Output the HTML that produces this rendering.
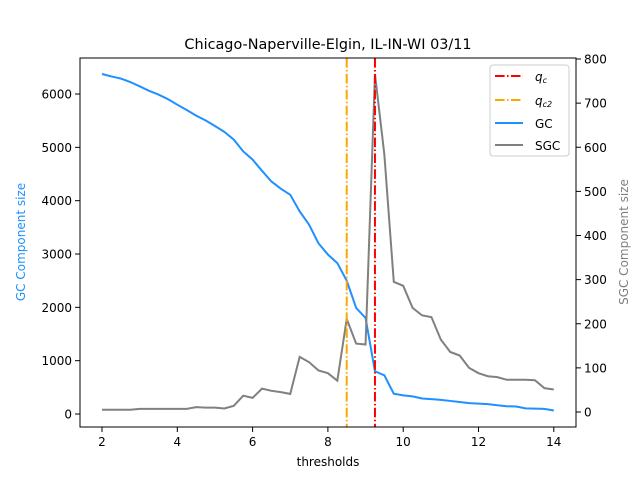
<!DOCTYPE html>
<html><head><meta charset="utf-8"><style>
body{margin:0;background:#fff;font-family:"DejaVu Sans","Liberation Sans",sans-serif;}
svg text{font-family:"DejaVu Sans","Liberation Sans",sans-serif;}
</style></head><body>
<svg id="chart" width="640" height="480" viewBox="0 0 640 480" xmlns="http://www.w3.org/2000/svg">
<rect width="640" height="480" fill="#fff"/>
<text x="328" y="49" font-size="14.4" text-anchor="middle">Chicago-Naperville-Elgin, IL-IN-WI 03/11</text>
<g id="marks"></g>
<g id="axes"></g>
<text x="328" y="466" font-size="12" text-anchor="middle">thresholds</text>
<text transform="translate(25,242) rotate(-90)" font-size="12" fill="#1e90ff" text-anchor="middle">GC Component size</text>
<text transform="translate(628,242) rotate(-90)" font-size="12" fill="#808080" text-anchor="middle">SGC Component size</text>
<g>
<rect x="490" y="65" width="79" height="91" rx="3" fill="#fff" fill-opacity="0.8" stroke="#ccc"/>
<line x1="495" y1="76" x2="523" y2="76" stroke="red" stroke-width="2" stroke-dasharray="9.6,2.4,1.5,2.4"/>
<text x="535" y="81" font-size="12" font-style="italic">q<tspan font-size="8" dy="2">c</tspan></text>
<line x1="495" y1="100" x2="523" y2="100" stroke="orange" stroke-width="2" stroke-dasharray="9.6,2.4,1.5,2.4"/>
<text x="535" y="105" font-size="12" font-style="italic">q<tspan font-size="8" dy="2">c2</tspan></text>
<line x1="495" y1="123" x2="523" y2="123" stroke="#1e90ff" stroke-width="2"/>
<text x="535" y="128" font-size="12">GC</text>
<line x1="495" y1="145" x2="523" y2="145" stroke="#808080" stroke-width="2"/>
<text x="535" y="150" font-size="12">SGC</text>
</g>
</svg>
<script>
const thresholds=[2,2.25,2.5,2.75,3,3.25,3.5,3.75,4,4.25,4.5,4.75,5,5.25,5.5,5.75,6,6.25,6.5,6.75,7,7.25,7.5,7.75,8,8.25,8.5,8.75,9,9.25,9.5,9.75,10,10.25,10.5,10.75,11,11.25,11.5,11.75,12,12.25,12.5,12.75,13,13.25,13.5,13.75,14];
const gcValues=[6375,6330,6290,6225,6145,6060,5990,5905,5800,5700,5595,5505,5400,5290,5145,4925,4770,4560,4360,4225,4110,3800,3550,3200,2990,2830,2500,1990,1800,800,725,380,350,330,290,280,265,245,225,205,195,185,165,145,140,105,100,95,65];
const sgcValues=[5,5,5,5,7,7,7,7,7,7,11,10,10,8,14,37,32,53,48,45,41,125,113,94,88,71,211,155,153,766,583,295,286,236,219,215,164,136,128,100,88,81,79,73,73,73,72,54,51];
const xTicks=[2,4,6,8,10,12,14];
const gcTicks=[0,1000,2000,3000,4000,5000,6000];
const sgcTicks=[0,100,200,300,400,500,600,700,800];
const qc=9.25, qc2=8.5;
const L=80,R=576,T=58,B=427;
const xs=v=>102+(v-2)*37.65;
const yl=v=>414-v*0.05333;
const yr=v=>412-v*0.44125;
const NS="http://www.w3.org/2000/svg";
const marks=document.getElementById('marks'), axes=document.getElementById('axes');
function mk(tag,attrs,parent){const e=document.createElementNS(NS,tag);for(const k in attrs)e.setAttribute(k,attrs[k]);parent.appendChild(e);return e;}
let p=mk('polyline',{points:thresholds.map((t,i)=>xs(t)+','+yl(gcValues[i])).join(' '),fill:'none',stroke:'#1e90ff','stroke-width':2},marks);


p=mk('polyline',{points:thresholds.map((t,i)=>xs(t)+','+yr(sgcValues[i])).join(' '),fill:'none',stroke:'#808080','stroke-width':2},marks);


p=mk('line',{x1:xs(qc2),x2:xs(qc2),y1:T,y2:B,stroke:'orange','stroke-width':2,'stroke-dasharray':'9.6,2.4,1.5,2.4'},marks);


p=mk('line',{x1:xs(qc),x2:xs(qc),y1:T,y2:B,stroke:'red','stroke-width':2,'stroke-dasharray':'9.6,2.4,1.5,2.4'},marks);


p=mk('rect',{x:L,y:T,width:R-L,height:B-T,fill:'none',stroke:'#000','stroke-width':1},axes);


xTicks.forEach(t=>{const x=xs(t);mk('line',{x1:x,x2:x,y1:B,y2:B+5,stroke:'#000'},axes);
 const tx=mk('text',{x:x,y:B+19,'font-size':12,'text-anchor':'middle'},axes);tx.textContent=t;
 
 });
gcTicks.forEach(t=>{const y=yl(t);mk('line',{x1:L-5,x2:L,y1:y,y2:y,stroke:'#000'},axes);
 const tx=mk('text',{x:L-8,y:y+4.5,'font-size':12,'text-anchor':'end'},axes);tx.textContent=t;
 
 });
sgcTicks.forEach(t=>{const y=yr(t);mk('line',{x1:R,x2:R+5,y1:y,y2:y,stroke:'#000'},axes);
 const tx=mk('text',{x:R+8,y:y+4.5,'font-size':12,'text-anchor':'start'},axes);tx.textContent=t;
 
 });
</script>
</body></html>
